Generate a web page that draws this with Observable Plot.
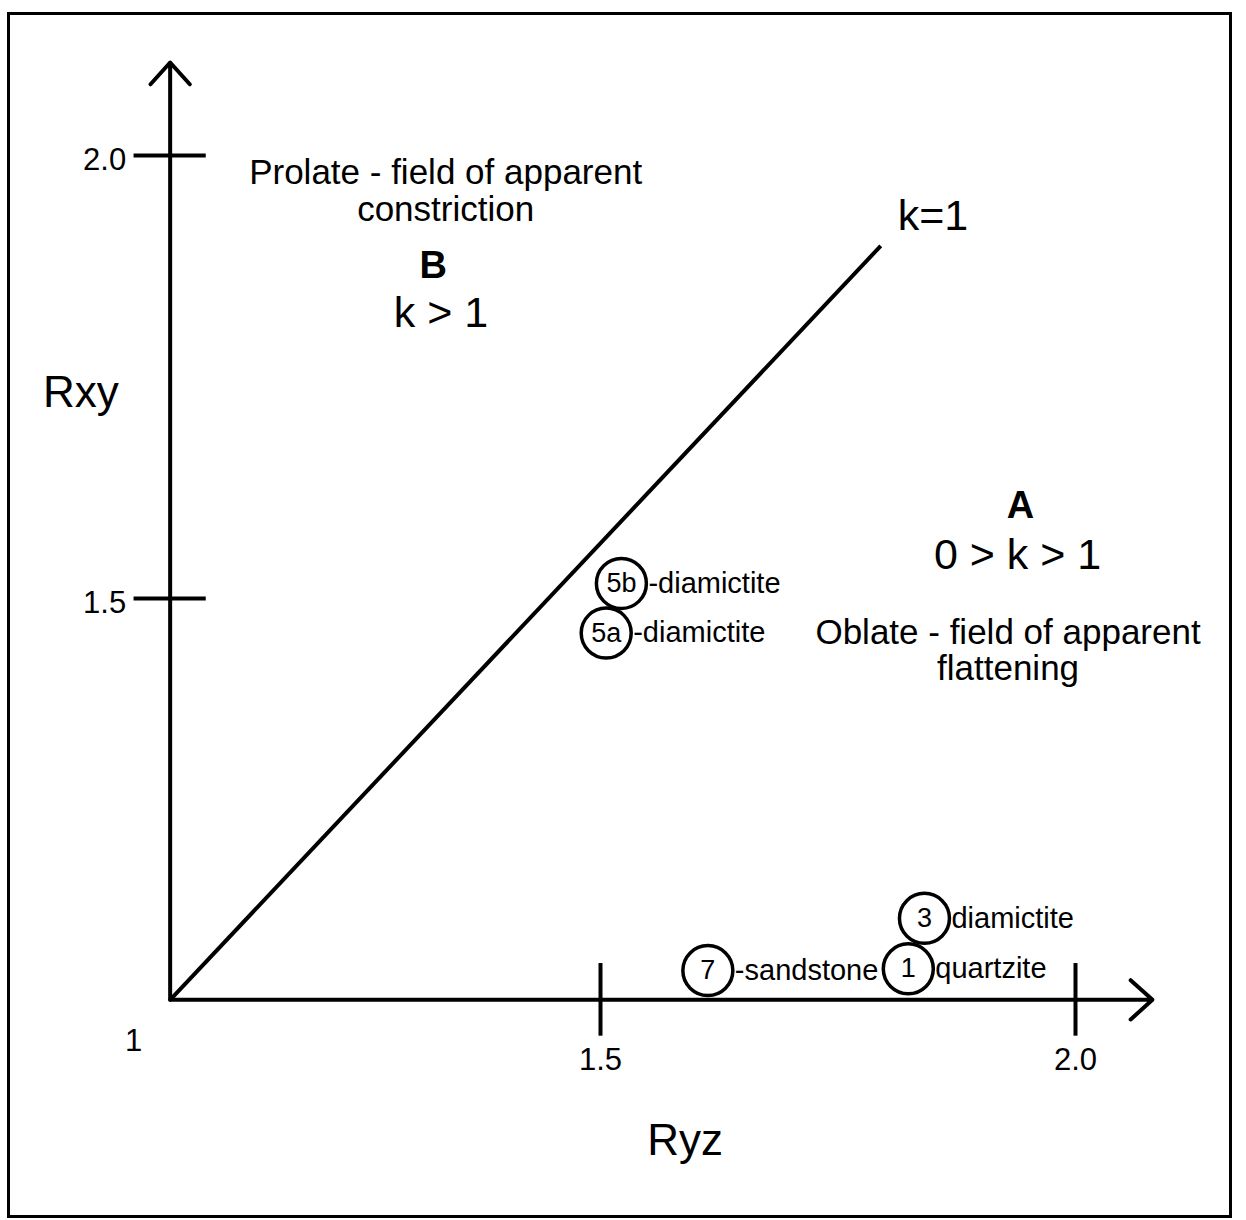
<!DOCTYPE html>
<html><head><meta charset="utf-8">
<script src="https://cdn.jsdelivr.net/npm/d3@7"></script>
<script src="https://cdn.jsdelivr.net/npm/@observablehq/plot@0.6"></script>
<style>body{margin:0;background:#fff}</style>
</head><body><div id="chart"></div>
<script>
// Sample data (Ryz, Rxy)
const samples = ["5b", "5a", "3", "1", "7"];
const ryz = [1.522, 1.506, 1.841, 1.824, 1.613];
const rxy = [1.517, 1.461, 1.139, 1.082, 1.080];
const rockTypes = ["-diamictite", "-diamictite", "diamictite", "quartzite", "-sandstone"];

// Axes
const axisStart = 1.047;
const axisEndX = 2.081;
const axisEndY = 2.105;
const xTicks = [1.5, 2.0];
const yTicks = [1.5, 2.0];
const xTickLabels = ["1.5", "2.0"];
const yTickLabels = ["1.5", "2.0"];
const originLabel = "1";

// k = 1 reference line
const kLineRyz = [1.047, 1.795];
const kLineRxy = [1.047, 1.898];

const pts = samples.map((s, i) => ({s, x: ryz[i], y: rxy[i], rock: rockTypes[i]}));
const FONT = "'Liberation Sans', Arial, Helvetica, sans-serif";

const plot = Plot.plot({
  width: 1246,
  height: 1220,
  margin: 0,
  style: {fontFamily: FONT, background: "#fff", color: "#000"},
  x: {domain: [1, 2], range: [125, 1075], axis: null},
  y: {domain: [1, 2], range: [1041, 155], axis: null},
  marks: [
    Plot.frame({stroke: "#000", strokeWidth: 3, insetLeft: 8, insetTop: 13, insetRight: 16, insetBottom: 4}),
    // axes with arrows
    Plot.arrow([0], {x1: axisStart, y1: axisStart, x2: axisEndX, y2: axisStart, stroke: "#000", strokeWidth: 4, headLength: 11, headAngle: 84}),
    Plot.arrow([0], {x1: axisStart, y1: axisStart, x2: axisStart, y2: axisEndY, stroke: "#000", strokeWidth: 4, headLength: 11, headAngle: 84}),
    // ticks
    Plot.ruleX(xTicks, {x: d => d, y1: axisStart - 0.041, y2: axisStart + 0.041, stroke: "#000", strokeWidth: 4}),
    Plot.ruleY(yTicks, {y: d => d, x1: axisStart - 0.038, x2: axisStart + 0.038, stroke: "#000", strokeWidth: 4}),
    Plot.text(xTicks, {x: d => d, y: axisStart, dy: 60, text: (d, i) => xTickLabels[i], fontSize: 31}),
    Plot.text(yTicks, {x: axisStart, y: d => d, dx: -44, dy: 5, textAnchor: "end", text: (d, i) => yTickLabels[i], fontSize: 31}),
    Plot.text([originLabel], {x: 1, y: 1, dx: 8, text: d => d, fontSize: 31}),
    // k = 1 line
    Plot.link([0], {x1: kLineRyz[0], y1: kLineRxy[0], x2: kLineRyz[1], y2: kLineRxy[1], stroke: "#000", strokeWidth: 4}),
    Plot.text(["k=1"], {x: kLineRyz[1], y: kLineRxy[1], dx: 17, dy: -30, textAnchor: "start", text: d => d, fontSize: 43}),
    // axis titles
    Plot.text(["Rxy"], {x: 0.953, y: 1.732, text: d => d, fontSize: 44}),
    Plot.text(["Ryz"], {x: 1.589, y: 0.888, text: d => d, fontSize: 44}),
    // field annotations
    Plot.text(["Prolate - field of apparent\nconstriction"], {x: 1.337, y: 1.960, text: d => d, fontSize: 35, lineHeight: 1.03}),
    Plot.text(["B"], {x: 1.324, y: 1.876, text: d => d, fontSize: 38, fontWeight: "bold"}),
    Plot.text(["k > 1"], {x: 1.332, y: 1.822, text: d => d, fontSize: 43}),
    Plot.text(["A"], {x: 1.942, y: 1.605, text: d => d, fontSize: 38, fontWeight: "bold"}),
    Plot.text(["0 > k > 1"], {x: 1.939, y: 1.549, text: d => d, fontSize: 43}),
    Plot.text(["Oblate - field of apparent\nflattening"], {x: 1.929, y: 1.441, text: d => d, fontSize: 35, lineHeight: 1.03}),
    // samples
    Plot.dot(pts, {x: "x", y: "y", r: 25, stroke: "#000", strokeWidth: 3.5, fill: "none"}),
    Plot.text(pts, {x: "x", y: "y", text: "s", fontSize: 27}),
    Plot.text(pts, {x: "x", y: "y", text: "rock", textAnchor: "start", dx: 27, fontSize: 29})
  ]
});
document.getElementById("chart").append(plot);
</script>
</body></html>
